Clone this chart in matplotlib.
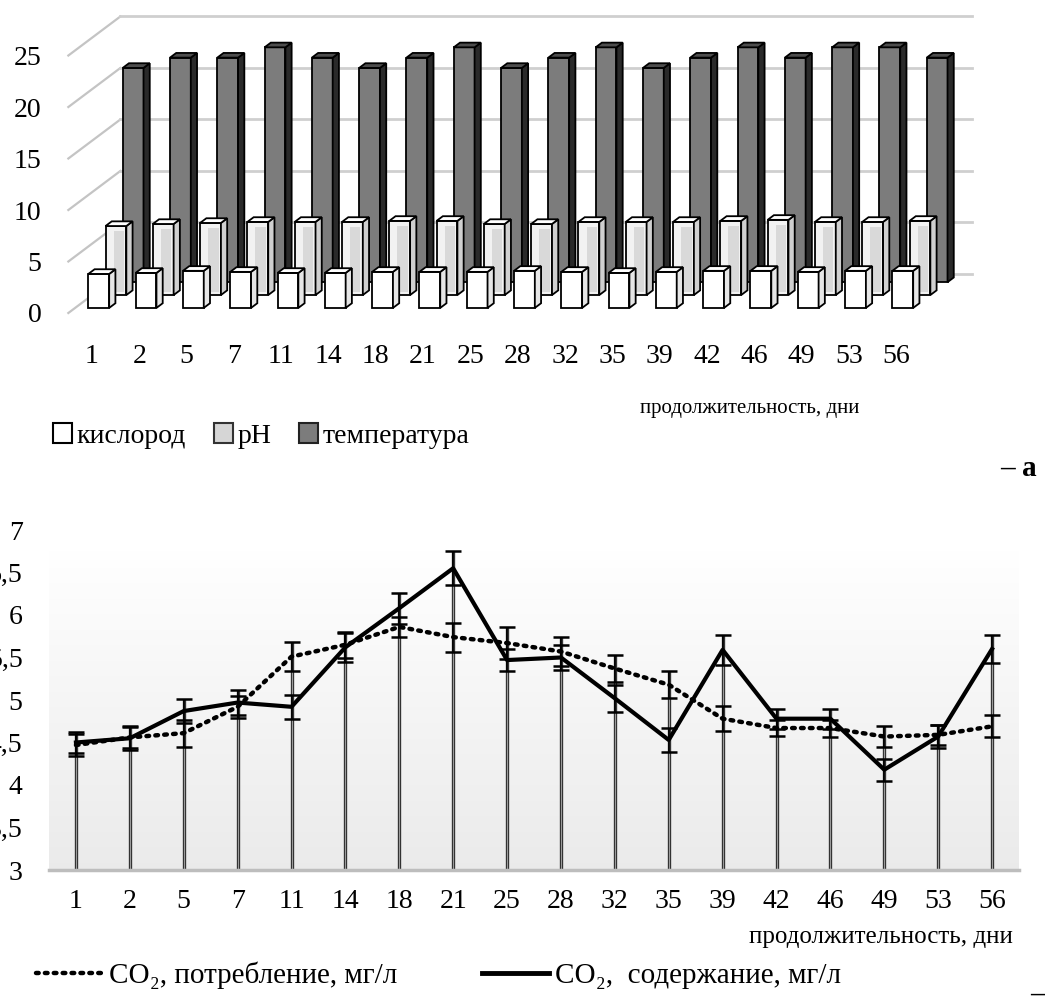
import matplotlib
matplotlib.use("Agg")
import matplotlib.pyplot as plt
from matplotlib.patches import Polygon, Patch
from matplotlib.lines import Line2D
import numpy as np

plt.rcParams['font.family'] = ['Liberation Serif', 'DejaVu Serif']

# ---- data ----
days = ['1', '2', '5', '7', '11', '14', '18', '21', '25', '28', '32', '35',
        '39', '42', '46', '49', '53', '56']

# panel a: 3D columns
oxygen = [3.3, 3.4, 3.6, 3.5, 3.4, 3.4, 3.5, 3.5, 3.5, 3.6, 3.5, 3.4,
          3.5, 3.6, 3.6, 3.5, 3.6, 3.6]
ph = [6.7, 6.9, 7.0, 7.1, 7.1, 7.1, 7.2, 7.2, 6.9, 6.9, 7.1, 7.1,
      7.1, 7.2, 7.3, 7.1, 7.1, 7.2]
temperature = [20.8, 21.8, 21.8, 22.8, 21.8, 20.8, 21.8, 22.8, 20.8, 21.8, 22.8, 20.8,
               21.8, 22.8, 21.8, 22.8, 22.8, 21.8]
series_a = ['кислород', 'pH', 'температура']
yticks_a = [0, 5, 10, 15, 20, 25]

# panel b: CO2 lines with error bars
co2_use = [4.47, 4.56, 4.61, 4.92, 5.51, 5.65, 5.86, 5.74, 5.67, 5.57, 5.37, 5.18,
           4.78, 4.67, 4.67, 4.57, 4.59, 4.69]
co2_use_err = [0.13, 0.12, 0.16, 0.13, 0.17, 0.15, 0.12, 0.17, 0.19, 0.17, 0.16, 0.16,
               0.15, 0.09, 0.10, 0.12, 0.12, 0.13]
co2_cont = [4.50, 4.55, 4.87, 4.97, 4.92, 5.62, 6.08, 6.55, 5.47, 5.50, 5.02, 4.53,
            5.59, 4.78, 4.78, 4.18, 4.57, 5.60]
co2_cont_err = [0.12, 0.14, 0.14, 0.15, 0.14, 0.17, 0.18, 0.20, 0.13, 0.15, 0.16, 0.14,
                0.18, 0.12, 0.12, 0.13, 0.14, 0.17]
yticks_b = [3, 3.5, 4, 4.5, 5, 5.5, 6, 6.5, 7]

W, H = 1045, 999
fig = plt.figure(figsize=(W / 100, H / 100), dpi=100)

# =========== panel a ===========
ax = fig.add_axes([50 / W, (H - 320) / H, 995 / W, 320 / H])
ax.set_xlim(-0.888, 20.15)
ax.set_ylim(-0.68, 30.39)
for s in ax.spines.values():
    s.set_visible(False)

DX, DY = 1.10, 3.79     # full depth offset in data units


def proj(u, v, z):
    return (u + DX * z, v + DY * z)


# walls
for v in yticks_a:
    ax.plot(*zip(proj(-0.5, v, 0), proj(-0.5, v, 1)), color='#c4c4c4', lw=1.6, zorder=1)
    ax.plot(*zip(proj(-0.5, v, 1), proj(17.5, v, 1)), color='#cfcfcf', lw=2, zorder=1)


def bar3d(i, val, z0, dz, w, front, side, top, zo):
    l, r = i - w / 2, i + w / 2
    faces = [
        ([proj(l, 0, z0), proj(r, 0, z0), proj(r, val, z0), proj(l, val, z0)], front),
        ([proj(r, 0, z0), proj(r, 0, z0 + dz), proj(r, val, z0 + dz), proj(r, val, z0)], side),
        ([proj(l, val, z0), proj(r, val, z0), proj(r, val, z0 + dz), proj(l, val, z0 + dz)], top),
    ]
    for pts, c in faces:
        ax.add_patch(Polygon(pts, closed=True, facecolor=c, edgecolor='black',
                             lw=1.3, zorder=zo, joinstyle='miter'))


rows = [
    (oxygen, 0.13, 'white', '#e6e6e6', 'white', 6),
    (ph, 0.46, '#f2f2f2', '#d0d0d0', 'white', 4),
    (temperature, 0.79, '#7c7c7c', '#2a2a2a', '#4d4d4d', 2),
]
for vals, z0, fc, sc, tc, zo in rows[::-1]:
    for i, v in enumerate(vals):
        bar3d(i, v, z0, 0.12, 0.44, fc, sc, tc, zo)
        if vals is ph:
            # light grey stripe on pH faces
            ax.add_patch(Polygon([proj(i - 0.05, 0.3, z0), proj(i + 0.17, 0.3, z0),
                                  proj(i + 0.17, v - 0.5, z0), proj(i - 0.05, v - 0.5, z0)],
                                 closed=True, facecolor='#d9d9d9', edgecolor='none',
                                 zorder=zo + 0.5))

ax.set_yticks(yticks_a)
ax.set_yticklabels([str(t) for t in yticks_a])
ax.set_xticks(range(len(days)))
ax.set_xticklabels(days)
ax.tick_params(length=0, labelsize=20)
ax.tick_params(axis='x', pad=17)
ax.tick_params(axis='y', pad=6)

handles_a = [Patch(facecolor='white', edgecolor='black', lw=1.5),
             Patch(facecolor='#d6d6d6', edgecolor='#333333', lw=1.5),
             Patch(facecolor='#7c7c7c', edgecolor='#222222', lw=1.5)]
fig.legend(handles_a, series_a, loc='center left', bbox_to_anchor=(28 / W, 1 - 436 / H),
           ncol=3, frameon=False, fontsize=20, handlelength=0.7, handleheight=0.7,
           handletextpad=0.15, columnspacing=1.0)
fig.text(640 / W, 1 - 408 / H, 'продолжительность, дни', fontsize=15, va='center')
fig.text(1000 / W, 1 - 468 / H, '– а', fontsize=21, fontweight='bold', va='center')

# =========== panel b ===========
bx = fig.add_axes([49 / W, (H - 870) / H, 970 / W, 340 / H])
bx.set_xlim(-0.5, 17.5)
bx.set_ylim(3, 7)
x = np.arange(len(days))

# background gradient of the plot area
g = np.clip((6.75 - np.linspace(7, 3, 200)) / 3.75, 0, 1)
shade = 1 - 0.08 * g
img = np.stack([shade, shade, shade], axis=-1)[:, None, :].repeat(2, axis=1)
bx.imshow(img, extent=(-0.5, 17.5, 3, 7), aspect='auto', zorder=0, interpolation='bilinear')

top = np.maximum(np.array(co2_use) + co2_use_err, np.array(co2_cont) + co2_cont_err)
bx.vlines(x, 3, top, color='#2e2e2e', lw=2.4, zorder=1)
bx.vlines(x, 3, top, color='#9a9a9a', lw=0.8, zorder=1)
bx.errorbar(x, co2_use, yerr=co2_use_err, fmt='none', ecolor='black', elinewidth=1.3,
            capsize=6, capthick=1.8, zorder=2)
bx.errorbar(x, co2_cont, yerr=co2_cont_err, fmt='none', ecolor='black', elinewidth=1.3,
            capsize=6, capthick=1.8, zorder=2)
bx.plot(x, co2_use, color='black', lw=3.2, linestyle=(0, (0.6, 1.4)),
        dash_capstyle='round', zorder=3)
bx.plot(x, co2_cont, color='black', lw=3.0, zorder=3)

for s in ['top', 'right', 'left']:
    bx.spines[s].set_visible(False)
bx.spines['bottom'].set_color('#bdbdbd')
bx.spines['bottom'].set_linewidth(2.5)
bx.set_yticks(yticks_b)
bx.set_yticklabels([f'{t:g}'.replace('.', ',') for t in yticks_b])
bx.set_xticks(x)
bx.set_xticklabels(days)
bx.tick_params(length=0, labelsize=20)
bx.tick_params(axis='x', pad=14)
bx.tick_params(axis='y', pad=19)

fig.text(1013 / W, 1 - 937 / H, 'продолжительность, дни', fontsize=18, va='center',
         ha='right')
handles_b = [Line2D([], [], color='black', lw=3.2, linestyle=(0, (0.6, 1.4)),
                    dash_capstyle='round'),
             Line2D([], [], color='black', lw=3.5)]
fig.legend(handles_b, ['CO₂, потребление, мг/л', 'CO₂,  содержание, мг/л'],
           loc='center left', bbox_to_anchor=(10 / W, 1 - 975 / H), ncol=2,
           frameon=False, fontsize=21, handlelength=2.3, handletextpad=0.2,
           columnspacing=2.9)
fig.text(1030 / W, 1 - 995 / H, '– б', fontsize=21, fontweight='bold', va='center')

fig.savefig('out.png', dpi=100)
